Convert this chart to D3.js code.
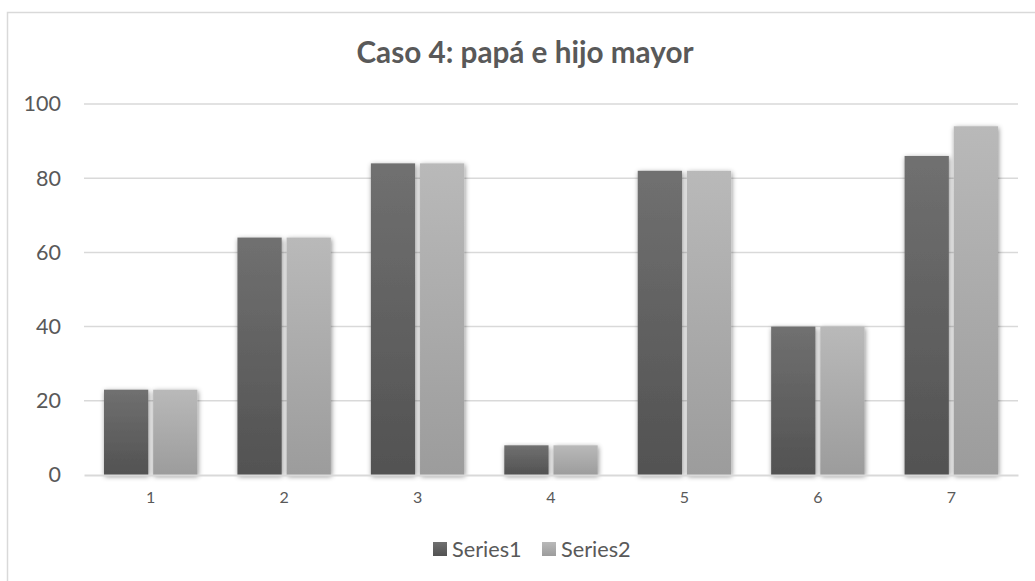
<!DOCTYPE html>
<html>
<head>
<meta charset="utf-8">
<script src="https://cdn.jsdelivr.net/npm/d3@7"></script>
<style>
  html, body { margin: 0; padding: 0; background: #fff; }
  svg { display: block; }
</style>
</head>
<body>
<svg id="chart" width="1035" height="581"></svg>
<script>
// Chart data
const categories = ["1", "2", "3", "4", "5", "6", "7"];
const series1 = [23, 64, 84, 8, 82, 40, 86];
const series2 = [23, 64, 84, 8, 82, 40, 94];
const seriesNames = ["Series1", "Series2"];
const yTicks = [0, 20, 40, 60, 80, 100];
const title = "Caso 4: papá e hijo mayor";

const W = 1035, H = 581;
const margin = { left: 84, right: 17, top: 104, bottom: 106 };
const textColor = "#595959";
const font = "Lato, 'Open Sans', sans-serif";

const svg = d3.select("#chart");
const defs = svg.append("defs");

// Vertical gradients, lighter at the top of each bar
const grads = [
  { id: "g1", top: "#707070", bottom: "#525252" },
  { id: "g2", top: "#b9b9b9", bottom: "#9c9c9c" }
];
grads.forEach(g => {
  const lg = defs.append("linearGradient")
    .attr("id", g.id).attr("x1", 0).attr("y1", 0).attr("x2", 0).attr("y2", 1);
  lg.append("stop").attr("offset", "0%").attr("stop-color", g.top);
  lg.append("stop").attr("offset", "100%").attr("stop-color", g.bottom);
});

// Soft outer shadow on the bars
const f = defs.append("filter").attr("id", "shadow")
  .attr("x", "-30%").attr("y", "-10%").attr("width", "160%").attr("height", "130%");
f.append("feDropShadow").attr("dx", 0.8).attr("dy", 1.5)
  .attr("stdDeviation", 2.5).attr("flood-color", "#000").attr("flood-opacity", 0.45);

// Chart frame
svg.append("rect").attr("x", 7.5).attr("y", 12.5)
  .attr("width", W + 10).attr("height", H + 10)
  .attr("fill", "#fff").attr("stroke", "#d9d9d9").attr("stroke-width", 1.5);

const x0 = d3.scaleBand().domain(categories)
  .range([margin.left, W - margin.right]).paddingInner(0).paddingOuter(0);
const y = d3.scaleLinear().domain([0, 100]).range([H - margin.bottom, margin.top]);

const groupWidth = x0.bandwidth() * 0.70;
const x1 = d3.scaleBand().domain(seriesNames)
  .range([(x0.bandwidth() - groupWidth) / 2, (x0.bandwidth() + groupWidth) / 2])
  .paddingInner(0.1);

// Horizontal gridlines
svg.append("g").selectAll("line").data(yTicks.filter(t => t > 0)).join("line")
  .attr("x1", margin.left).attr("x2", W - margin.right)
  .attr("y1", d => y(d)).attr("y2", d => y(d))
  .attr("stroke", "#d9d9d9").attr("stroke-width", 1.5);

// Y-axis labels
const yAxis = svg.append("g")
  .attr("transform", `translate(${margin.left - 23},0)`)
  .call(d3.axisLeft(y).tickValues(yTicks).tickSize(0).tickPadding(0));
yAxis.select(".domain").remove();
yAxis.selectAll("text")
  .attr("fill", textColor).style("font-family", font).style("font-size", "21.5px");

// Bars
const seriesData = [series1, series2];
const groups = svg.append("g").selectAll("g").data(seriesData).join("g")
  .attr("fill", (d, i) => `url(#${grads[i].id})`);
groups.selectAll("rect").data((d, i) => d.map((v, j) => ({ v, cat: categories[j], s: seriesNames[i] })))
  .join("rect")
  .attr("x", d => x0(d.cat) + x1(d.s))
  .attr("width", x1.bandwidth())
  .attr("y", d => y(d.v))
  .attr("height", d => y(0) - y(d.v))
  .attr("filter", "url(#shadow)");

// Category axis
const xAxis = svg.append("g")
  .attr("transform", `translate(0,${y(0)})`)
  .call(d3.axisBottom(x0).tickSize(0).tickPadding(17));
xAxis.select(".domain").attr("stroke", "#d9d9d9").attr("stroke-width", 2);
xAxis.selectAll("text")
  .attr("fill", textColor).style("font-family", font).style("font-size", "16px");

// Title
svg.append("text").attr("x", 525).attr("y", 63)
  .attr("text-anchor", "middle").attr("fill", textColor)
  .style("font-family", font).style("font-size", "29.7px").style("font-weight", "bold")
  .text(title);

// Legend
const legendItems = [
  { name: seriesNames[0], grad: "g1", x: 433 },
  { name: seriesNames[1], grad: "g2", x: 542 }
];
const lg = svg.append("g");
legendItems.forEach(it => {
  lg.append("rect").attr("x", it.x).attr("y", 542).attr("width", 14).attr("height", 14)
    .attr("fill", `url(#${it.grad})`);
  lg.append("text").attr("x", it.x + 19).attr("y", 557)
    .attr("fill", textColor).style("font-family", font).style("font-size", "21.7px")
    .text(it.name);
});
</script>
</body>
</html>
